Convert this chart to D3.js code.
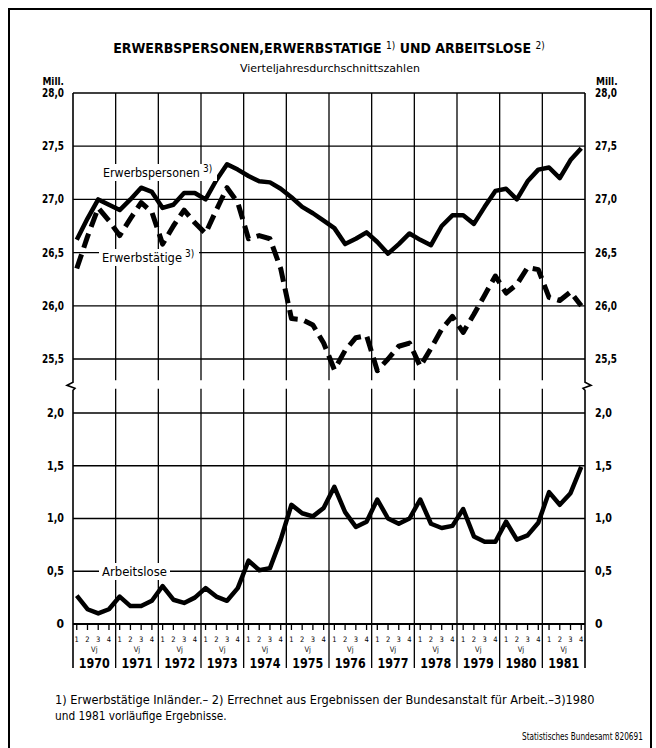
<!DOCTYPE html>
<html>
<head>
<meta charset="UTF-8">
<style>
body { margin: 0; background: #fff; }
svg { display: block; }
text { font-family: "Liberation Sans Narrow", "DejaVu Sans Condensed", "Roboto Condensed", sans-serif; fill: #000; }
.grid line { stroke: #000; stroke-width: 1.3px; }
.frame { fill: none; stroke: #000; stroke-width: 1.6px; }
.serie { fill: none; stroke: #000; stroke-linejoin: round; }
</style>
</head>
<body>
<svg class="chart" width="656" height="748"></svg>
<script src="https://d3js.org/d3.v7.min.js"></script>
<script>

// years and quarters on the time axis
var years = ["1970","1971","1972","1973","1974","1975","1976","1977","1978","1979","1980","1981"];
var quarterNums = ["1","2","3","4"];

// Erwerbspersonen (Mill.), quarterly averages 1970 Q1 .. 1981 Q4
var erwerbspersonen = [26.62,26.82,27.00,26.95, 26.90,27.00,27.11,27.07, 26.92,26.95,27.06,27.06,
                       27.00,27.18,27.33,27.28, 27.22,27.17,27.16,27.10, 27.02,26.93,26.87,26.80,
                       26.73,26.58,26.63,26.69, 26.60,26.49,26.58,26.68, 26.62,26.57,26.75,26.85,
                       26.85,26.77,26.93,27.08, 27.10,27.00,27.17,27.28, 27.30,27.20,27.37,27.48];

// Erwerbstaetige (Mill.)
var erwerbstaetige = [26.35,26.65,26.92,26.80, 26.66,26.82,26.97,26.88, 26.58,26.75,26.90,26.78,
                      26.68,26.90,27.11,26.97, 26.63,26.66,26.63,26.35, 25.88,25.87,25.82,25.65,
                      25.40,25.58,25.70,25.72, 25.39,25.50,25.62,25.65, 25.43,25.60,25.78,25.90,
                      25.75,25.92,26.10,26.28, 26.12,26.20,26.36,26.34, 26.08,26.05,26.13,26.00];

// Arbeitslose (Mill.)
var arbeitslose = [0.27,0.14,0.10,0.14, 0.26,0.17,0.17,0.22, 0.36,0.23,0.20,0.25,
                   0.34,0.26,0.22,0.34, 0.60,0.51,0.53,0.80, 1.13,1.05,1.02,1.10,
                   1.30,1.06,0.92,0.97, 1.18,1.00,0.95,1.00, 1.18,0.95,0.91,0.93,
                   1.09,0.83,0.78,0.78, 0.97,0.80,0.84,0.96, 1.25,1.13,1.24,1.49];

// tick labels of the two y axes
var ticksTop = [25.5, 26.0, 26.5, 27.0, 27.5, 28.0];
var ticksBottom = [0, 0.5, 1.0, 1.5, 2.0];

var quarters = [];
years.forEach(function(y) { quarterNums.forEach(function(q) { quarters.push(y + "-" + q); }); });

var svg = d3.select(".chart");

// plot area
var left = 73, right = 585;

var x = d3.scalePoint().domain(quarters).range([left, right]).padding(0.35);
var xYear = d3.scaleBand().domain(years).range([left, right]);
var yTop = d3.scaleLinear().domain([25.5, 28]).range([359, 93]);
var yBot = d3.scaleLinear().domain([0, 2]).range([624, 413]);

var topEnd = yTop(25.3), botStart = yBot(2.23);

function fmt(v) { return v === 0 ? "0" : d3.format(".1f")(v).replace(".", ","); }

// squeeze a text horizontally to a given width (the original uses a condensed face)
function fit(sel, w) {
  sel.each(function() {
    var el = d3.select(this),
        tx = +el.attr("x"), ty = +el.attr("y"),
        k = w / this.getComputedTextLength();
    el.attr("transform", "translate(" + tx + "," + ty + ") scale(" + k + ",1) translate(" + (-tx) + "," + (-ty) + ")");
  });
  return sel;
}

// outer border
svg.append("path").attr("class", "frame")
    .attr("d", "M9,760 V9 H651 V760").style("stroke-width", "2px");

// ***** titles *****
var title = svg.append("text").attr("x", 329).attr("y", 53)
    .attr("text-anchor", "middle").style("font-weight", "bold").style("font-size", "14px");
title.append("tspan").text("ERWERBSPERSONEN,ERWERBSTATIGE ");
title.append("tspan").attr("dy", -4).style("font-size", "10px").style("font-weight", "normal").text("1)");
title.append("tspan").attr("dy", 4).text(" UND ARBEITSLOSE ");
title.append("tspan").attr("dy", -4).style("font-size", "10px").style("font-weight", "normal").text("2)");

fit(svg.append("text").attr("x", 240).attr("y", 72)
    .style("font-size", "11px").text("Vierteljahresdurchschnittszahlen"), 180);

svg.append("text").attr("x", 64).attr("y", 85).attr("text-anchor", "end")
    .style("font-size", "10px").style("font-weight", "bold").text("Mill.");
svg.append("text").attr("x", 596).attr("y", 85)
    .style("font-size", "10px").style("font-weight", "bold").text("Mill.");

// ***** grid *****
var grid = svg.append("g").attr("class", "grid");

// horizontal lines upper part
grid.selectAll(".ht").data(ticksTop).enter().append("line")
    .attr("x1", left).attr("x2", right)
    .attr("y1", function(d) { return yTop(d); }).attr("y2", function(d) { return yTop(d); });

// horizontal lines lower part
grid.selectAll(".hb").data(ticksBottom.slice(1)).enter().append("line")
    .attr("x1", left).attr("x2", right)
    .attr("y1", function(d) { return yBot(d); }).attr("y2", function(d) { return yBot(d); });

// year lines, both parts (inner ones)
var inner = years.slice(1);
grid.selectAll(".vt").data(inner).enter().append("line")
    .attr("x1", function(d) { return xYear(d); }).attr("x2", function(d) { return xYear(d); })
    .attr("y1", yTop(28)).attr("y2", topEnd);
grid.selectAll(".vb").data(inner).enter().append("line")
    .attr("x1", function(d) { return xYear(d); }).attr("x2", function(d) { return xYear(d); })
    .attr("y1", botStart).attr("y2", yBot(0) + 44);

// side axes with the break mark
function sideAxis(xp, dir) {
  var p = d3.path();
  p.moveTo(xp, yTop(28));
  p.lineTo(xp, topEnd + 2);
  p.lineTo(xp + dir * 6, topEnd + 5);
  p.lineTo(xp - dir * 2, topEnd + 8);
  p.lineTo(xp, topEnd + 10);
  p.lineTo(xp, yBot(0) + 44);
  svg.append("path").attr("class", "frame").attr("d", p.toString());
}
sideAxis(left, -1);
sideAxis(right, 1);

// zero axis line
svg.append("line").attr("x1", left).attr("x2", right)
    .attr("y1", yBot(0)).attr("y2", yBot(0))
    .style("stroke", "#000").style("stroke-width", "2.2px");

// quarter ticks and labels
svg.selectAll(".qt").data(quarters).enter().append("line")
    .attr("x1", function(d) { return x(d); }).attr("x2", function(d) { return x(d); })
    .attr("y1", yBot(0)).attr("y2", yBot(0) + 6)
    .style("stroke", "#000").style("stroke-width", "1.3px");

svg.selectAll(".ql").data(quarters).enter().append("text")
    .attr("x", function(d) { return x(d); }).attr("y", yBot(0) + 18)
    .attr("text-anchor", "middle").style("font-size", "7.5px")
    .text(function(d) { return d.split("-")[1]; });

svg.selectAll(".vj").data(years).enter().append("text")
    .attr("x", function(d) { return xYear(d) + xYear.bandwidth() / 2; }).attr("y", yBot(0) + 28)
    .attr("text-anchor", "middle").style("font-size", "7.5px").text("Vj");

fit(svg.selectAll(".yl").data(years).enter().append("text")
    .attr("x", function(d) { return xYear(d) + xYear.bandwidth() / 2; }).attr("y", yBot(0) + 44)
    .attr("text-anchor", "middle").style("font-size", "14px").style("font-weight", "bold")
    .text(function(d) { return d; }), 31);

// y tick labels, left and right
[[left - 9, "end"], [right + 10, "start"]].forEach(function(s) {
  fit(svg.selectAll(null).data(ticksTop).enter().append("text")
      .attr("x", s[0]).attr("y", function(d) { return yTop(d) + 4; })
      .attr("text-anchor", s[1]).style("font-size", "12px").style("font-weight", "bold")
      .text(fmt), 22);
  svg.selectAll(null).data(ticksBottom).enter().append("text")
      .attr("x", s[0]).attr("y", function(d) { return yBot(d) + 4; })
      .attr("text-anchor", s[1]).style("font-size", "12px").style("font-weight", "bold")
      .text(fmt)
      .each(function(d) { if (d !== 0) fit(d3.select(this), 17); });
});

// ***** series *****
var lineTop = d3.line().x(function(d, i) { return x(quarters[i]); }).y(function(d) { return yTop(d); });
var lineBot = d3.line().x(function(d, i) { return x(quarters[i]); }).y(function(d) { return yBot(d); });

svg.append("path").attr("class", "serie").attr("d", lineTop(erwerbspersonen))
    .style("stroke-width", "4.5px");
svg.append("path").attr("class", "serie").attr("d", lineTop(erwerbstaetige))
    .style("stroke-width", "5px").style("stroke-dasharray", "15,7");
svg.append("path").attr("class", "serie").attr("d", lineBot(arbeitslose))
    .style("stroke-width", "4.5px");

// ***** series labels *****
function label(tx, ty, txt, sup, w) {
  svg.append("rect").attr("x", tx - 3).attr("y", ty - 13).attr("width", w + (sup ? 20 : 6)).attr("height", 17).style("fill", "#fff");
  fit(svg.append("text").attr("x", tx).attr("y", ty).style("font-size", "13px").text(txt), w);
  if (sup) svg.append("text").attr("x", tx + w + 3).attr("y", ty - 5).style("font-size", "10px").text(sup);
}
label(103, 177, "Erwerbspersonen", "3)", 97);
label(102, 262, "Erwerbstätige", "3)", 80);
label(102, 576, "Arbeitslose", null, 65);

// ***** footnotes *****
fit(svg.append("text").attr("x", 55).attr("y", 704).style("font-size", "12px")
    .text("1) Erwerbstätige Inländer.\u2013 2) Errechnet aus Ergebnissen der Bundesanstalt für Arbeit.\u20133)1980"), 540);
fit(svg.append("text").attr("x", 55).attr("y", 720).style("font-size", "12px")
    .text("und 1981 vorläufige Ergebnisse."), 172);
fit(svg.append("text").attr("x", 522).attr("y", 740).style("font-size", "10px")
    .text("Statistisches Bundesamt 820691"), 121);

</script>
</body>
</html>
